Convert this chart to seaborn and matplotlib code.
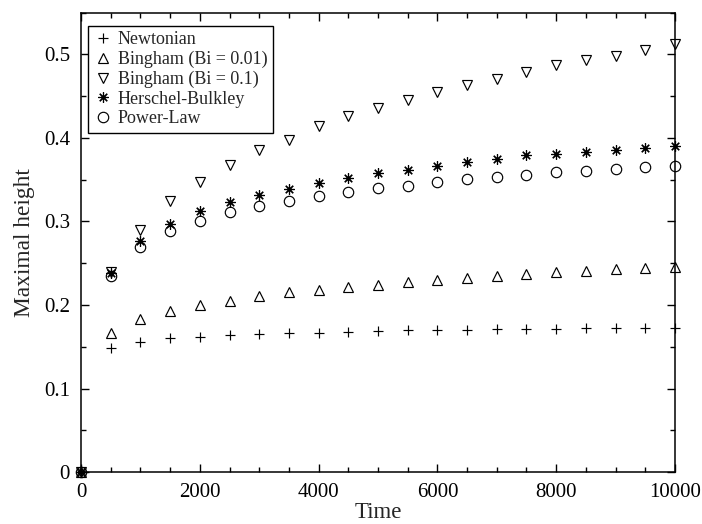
import numpy as np
import matplotlib
matplotlib.use("Agg")
import matplotlib.pyplot as plt
from matplotlib.ticker import MultipleLocator
import seaborn as sns

# Data
time = [0, 500, 1000, 1500, 2000, 2500, 3000, 3500, 4000, 4500, 5000,
        5500, 6000, 6500, 7000, 7500, 8000, 8500, 9000, 9500, 10000]

newtonian = [0, 0.148, 0.156, 0.160, 0.162, 0.164, 0.165, 0.166, 0.167, 0.168, 0.169,
             0.170, 0.170, 0.170, 0.171, 0.171, 0.171, 0.172, 0.172, 0.172, 0.173]
bingham_001 = [0, 0.167, 0.183, 0.193, 0.200, 0.205, 0.211, 0.215, 0.218, 0.222, 0.224,
               0.227, 0.230, 0.232, 0.235, 0.237, 0.239, 0.241, 0.243, 0.244, 0.246]
bingham_01 = [0, 0.240, 0.290, 0.324, 0.347, 0.368, 0.385, 0.398, 0.414, 0.426, 0.436,
              0.446, 0.455, 0.463, 0.471, 0.479, 0.487, 0.493, 0.498, 0.505, 0.512]
herschel = [0, 0.238, 0.277, 0.297, 0.312, 0.323, 0.332, 0.339, 0.346, 0.352, 0.358,
            0.362, 0.367, 0.371, 0.375, 0.379, 0.381, 0.383, 0.386, 0.388, 0.390]
power_law = [0, 0.235, 0.270, 0.288, 0.301, 0.311, 0.318, 0.324, 0.330, 0.335, 0.340,
             0.343, 0.347, 0.351, 0.353, 0.356, 0.359, 0.361, 0.363, 0.365, 0.367]

series = [
    ("Newtonian", newtonian, "+"),
    ("Bingham (Bi = 0.01)", bingham_001, "^"),
    ("Bingham (Bi = 0.1)", bingham_01, "v"),
    ("Herschel-Bulkley", herschel, (8, 2, 0)),
    ("Power-Law", power_law, "o"),
]

sns.set_style("ticks")
plt.rcParams["font.family"] = ["Liberation Serif", "DejaVu Serif"]

fig = plt.figure(figsize=(7.02, 5.24), dpi=100)
ax = fig.add_axes([0.1154, 0.0992, 0.8461, 0.8766])

for name, vals, m in series:
    sns.lineplot(x=time, y=vals, ax=ax, label=name, marker=m, linestyle="none",
                 color="black", markerfacecolor="none", markeredgecolor="black",
                 markersize=7.5, markeredgewidth=0.85, errorbar=None, clip_on=False)

ax.set_xlim(0, 10000)
ax.set_ylim(0, 0.55)
ax.xaxis.set_major_locator(MultipleLocator(2000))
ax.xaxis.set_minor_locator(MultipleLocator(500))
ax.yaxis.set_major_locator(MultipleLocator(0.1))
ax.yaxis.set_minor_locator(MultipleLocator(0.05))
ax.set_yticks([0, 0.1, 0.2, 0.3, 0.4, 0.5], ["0", "0.1", "0.2", "0.3", "0.4", "0.5"])

ax.tick_params(which="both", direction="in", top=True, right=True,
               colors="black", labelsize=15, width=1.0)
ax.tick_params(which="major", length=6, pad=8)
ax.tick_params(which="minor", length=3.5)
for sp in ax.spines.values():
    sp.set_visible(True)
    sp.set_color("black")
    sp.set_linewidth(1.1)

ax.set_xlabel("Time", fontsize=16.5, labelpad=0)
ax.set_ylabel("Maximal height", fontsize=16.8, labelpad=6)

leg = ax.legend(loc="upper left", bbox_to_anchor=(0.012, 0.972), fontsize=13,
                frameon=True, fancybox=False, framealpha=1, edgecolor="black",
                borderpad=0.3, labelspacing=0.15, handlelength=1.0,
                handletextpad=0.35, borderaxespad=0)
leg.get_frame().set_linewidth(1.0)

fig.savefig("out.png", dpi=100)
